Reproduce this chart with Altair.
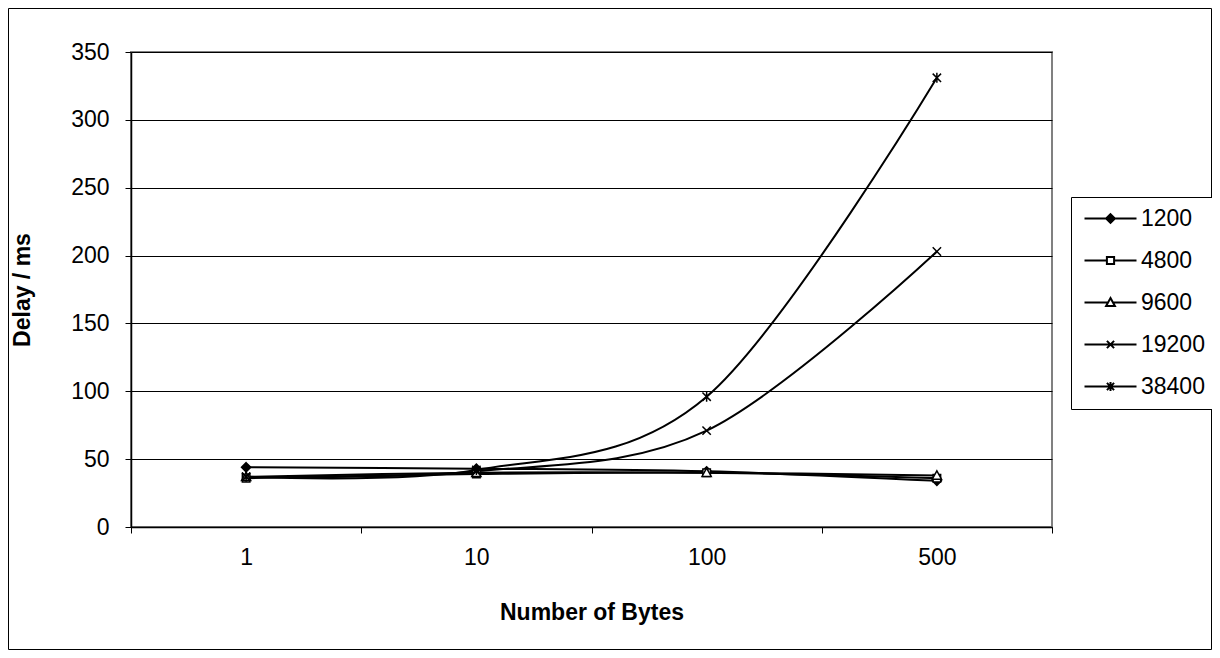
import json
import altair as alt
import pandas as pd

categories = ["1", "10", "100", "500"]
series = ["1200", "4800", "9600", "19200", "38400"]
d1200 = [44, 43, 41, 34]
d4800 = [36, 39, 40, 36]
d9600 = [37, 40, 40, 38]
d19200 = [37, 41, 71, 203]
d38400 = [37, 42, 96, 331]
y_ticks = [0, 50, 100, 150, 200, 250, 300, 350]

values = [d1200, d4800, d9600, d19200, d38400]
rows = []
for s, vals in zip(series, values):
    for i, (c, v) in enumerate(zip(categories, vals)):
        rows.append({"series": s, "xi": i, "cat": c, "delay": v})
df = pd.DataFrame(rows)

FONT = "Liberation Sans"
FS = 23
W, H = 921, 475

marker_paths = [
    "M0,-1.1L1.1,0L0,1.1L-1.1,0Z",
    "M-0.9,-0.9L0.9,-0.9L0.9,0.9L-0.9,0.9Z",
    "M0,-1.1L1.1,0.9L-1.1,0.9Z",
    "M-1,-1L1,1M-1,1L1,-1",
    "M-1,-1L1,1M-1,1L1,-1M0,-1.2L0,1.2",
]
legend_paths = [
    "M-3.25,0L-0.55,0M0.55,0L3.25,0M0,-0.55L0.55,0L0,0.55L-0.55,0Z",
    "M-3.25,0L-0.45,0M0.45,0L3.25,0M-0.45,-0.45L0.45,-0.45L0.45,0.45L-0.45,0.45Z",
    "M-3.25,0L-0.4,0M0.4,0L3.25,0M0,-0.55L0.55,0.45L-0.55,0.45Z",
    "M-3.25,0L3.25,0M-0.45,-0.45L0.45,0.45M-0.45,0.45L0.45,-0.45",
    "M-3.25,0L3.25,0M-0.45,-0.45L0.45,0.45M-0.45,0.45L0.45,-0.45M0,-0.55L0,0.55",
]
fills = ["black", "white", "white", "black", "black"]
strokes = ["black"] * len(series)

x_vals = [i - 0.5 for i in range(len(categories) + 1)] + list(range(len(categories)))
label_expr = "datum.value % 1 === 0 ? " + json.dumps(categories) + "[datum.value] : ''"

x_enc = alt.X(
    "xi:Q",
    scale=alt.Scale(domain=[-0.5, len(categories) - 0.5], nice=False, zero=False),
    axis=alt.Axis(
        title="Number of Bytes",
        values=x_vals,
        labelExpr=label_expr,
        tickOpacity={"condition": {"test": "datum.value % 1 === 0", "value": 0}, "value": 1},
        grid=False,
        tickSize=6,
        tickColor="black",
        domainColor="black",
        labelPadding=13,
        labelOverlap=False,
        labelFlush=False,
        titlePadding=32,
    ),
)
y_enc = alt.Y(
    "delay:Q",
    scale=alt.Scale(domain=[0, 350], nice=False),
    axis=alt.Axis(
        title="Delay / ms",
        values=y_ticks,
        grid=True,
        gridColor="black",
        gridOpacity=1,
        tickSize=6,
        tickColor="black",
        domainColor="black",
        labelPadding=16,
        titlePadding=36,
    ),
)

base = alt.Chart(df)

lines = base.mark_line(interpolate="cardinal", color="black", strokeWidth=2).encode(
    x=x_enc, y=y_enc, detail="series:N"
)

points = base.mark_point(filled=True, stroke="black", strokeWidth=1.5, opacity=1, size=70).encode(
    x="xi:Q",
    y="delay:Q",
    shape=alt.Shape("series:N", scale=alt.Scale(domain=series, range=marker_paths), legend=None),
    fill=alt.Fill("series:N", scale=alt.Scale(domain=series, range=fills), legend=None),
)

leg = alt.Legend(
    orient="none",
    legendX=940,
    legendY=145,
    title=None,
    strokeColor="black",
    fillColor="white",
    padding=10,
    symbolSize=256,
    symbolOffset=18,
    labelOffset=19,
    rowPadding=18,
    labelFontSize=FS,
    labelFont=FONT,
    labelColor="black",
    symbolStrokeColor="black",
    symbolStrokeWidth=2,
)
legend_layer = base.transform_filter("datum.delay < 0").mark_point(
    filled=True, strokeWidth=2, opacity=1
).encode(
    x="xi:Q",
    y="delay:Q",
    shape=alt.Shape("series:N", scale=alt.Scale(domain=series, range=legend_paths), legend=leg),
    fill=alt.Fill("series:N", scale=alt.Scale(domain=series, range=fills), legend=leg),
    stroke=alt.Stroke("series:N", scale=alt.Scale(domain=series, range=strokes), legend=leg),
)

frame = alt.Chart(pd.DataFrame({"a": [0]})).mark_rect(
    fill="white", fillOpacity=0, stroke="black", strokeWidth=1
).encode(
    x=alt.value(-122.5), x2=alt.value(W + 159.5), y=alt.value(-43.5), y2=alt.value(H + 122.5)
)

chart = (
    alt.layer(frame, lines, points, legend_layer)
    .resolve_scale(shape="independent", fill="independent", stroke="independent")
    .properties(
        width=W,
        height=H,
        autosize=alt.AutoSizeParams(type="none"),
        padding={"left": 123, "top": 44, "right": 160, "bottom": 123},
        background="white",
    )
    .configure_view(stroke="#808080", strokeWidth=2)
    .configure_axis(
        labelFont=FONT,
        labelFontSize=FS,
        labelColor="black",
        titleFont=FONT,
        titleFontSize=FS,
        titleFontWeight="bold",
        titleColor="black",
        domainWidth=1.5,
        gridWidth=1,
    )
)

chart.save("out.html", embed_options={"renderer": "svg", "actions": False})
